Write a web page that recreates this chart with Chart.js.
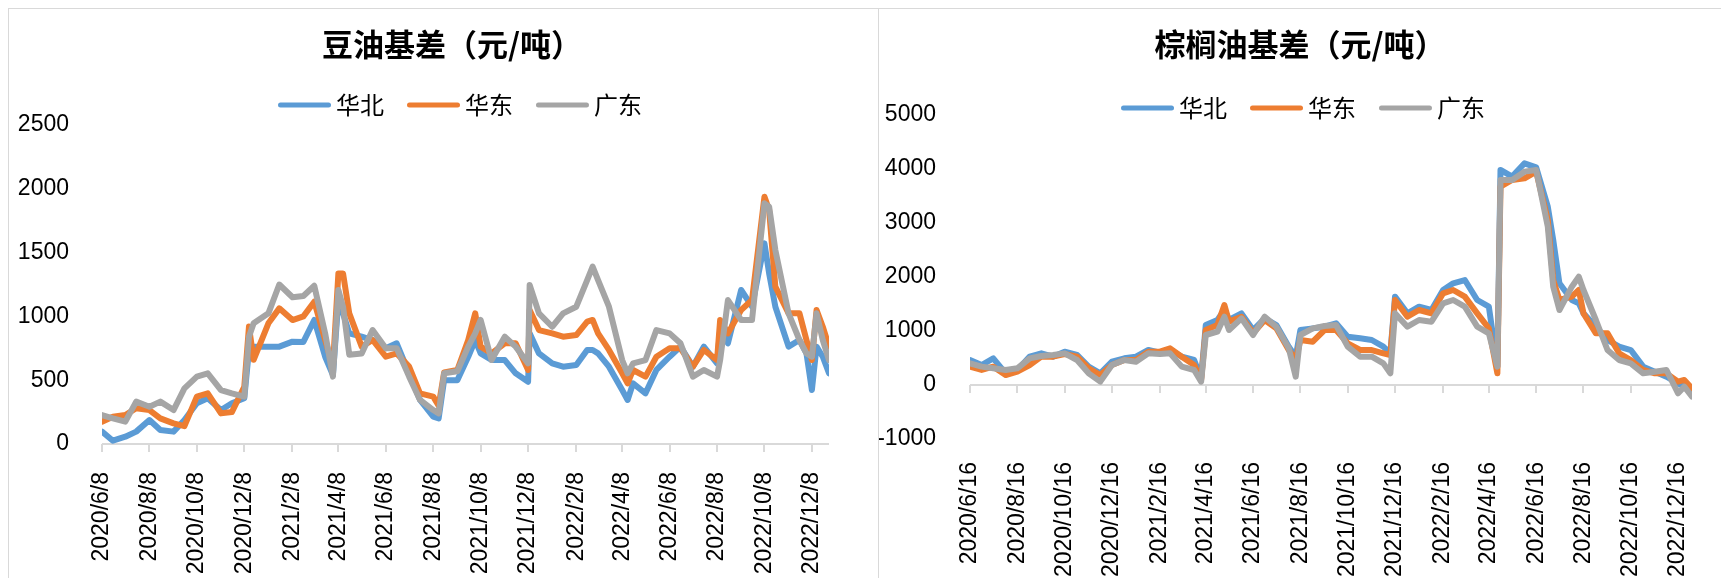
<!DOCTYPE html>
<html>
<head>
<meta charset="utf-8">
<script src="https://cdn.jsdelivr.net/npm/chart.js@4.4.0/dist/chart.umd.min.js"></script>
<style>
  body { margin: 0; background: #fff; width: 1721px; height: 578px; overflow: hidden; position: relative; }
  .panel { position: absolute; top: 8px; height: 580px; border: 1px solid #d9d9d9; background: #fff; overflow: hidden; }
  #p1 { left: 8px; width: 869px; }
  #p2 { left: 878px; width: 850px; }
  canvas { display: block; }
</style>
</head>
<body>
<div class="panel" id="p1"><canvas id="douyou" width="869" height="569"></canvas></div>
<div class="panel" id="p2"><canvas id="zonglv" width="842" height="569"></canvas></div>
<script>
// ---- 豆油基差 ----
const dyDates = ['2020/6/8','2020/6/22','2020/7/8','2020/7/22','2020/8/8','2020/8/22','2020/9/8','2020/9/22',
  '2020/10/8','2020/10/22','2020/11/8','2020/11/22','2020/12/8','2020/12/14','2020/12/20','2021/1/8','2021/1/22',
  '2021/2/8','2021/2/22','2021/3/8','2021/3/22','2021/4/1','2021/4/8','2021/4/14','2021/4/22','2021/5/8','2021/5/22',
  '2021/6/8','2021/6/22','2021/7/8','2021/7/22','2021/8/8','2021/8/15','2021/8/22','2021/9/8','2021/9/22','2021/10/1',
  '2021/10/8','2021/10/22','2021/11/8','2021/11/22','2021/12/8','2021/12/10','2021/12/22','2022/1/8','2022/1/22',
  '2022/2/8','2022/2/22','2022/3/1','2022/3/8','2022/3/22','2022/4/8','2022/4/15','2022/4/22','2022/5/8','2022/5/22',
  '2022/6/8','2022/6/22','2022/7/8','2022/7/22','2022/8/8','2022/8/12','2022/8/22','2022/9/8','2022/9/22','2022/10/8',
  '2022/10/14','2022/10/22','2022/11/8','2022/11/22','2022/12/1','2022/12/8','2022/12/14','2022/12/22','2022/12/30'];
const dyHuabei = [97,26,57,97,188,110,97,188,319,358,266,319,358,737,763,763,763,802,800,972,684,540,1128,1024,867,
  841,815,750,789,554,345,214,201,500,500,684,815,710,658,658,554,488,867,710,632,606,619,737,737,710,606,423,345,
  475,397,580,684,763,606,763,632,893,789,1207,1076,1572,1337,1076,763,815,710,423,763,684,554];
const dyHuadong = [175,214,227,280,266,201,162,140,371,397,240,250,449,920,660,946,1063,971,1000,1115,815,606,1337,
  1337,1024,763,815,684,710,606,397,371,300,560,580,815,1024,763,710,789,789,580,1050,893,867,841,854,959,972,867,
  737,554,475,580,528,684,750,750,606,737,658,972,867,1050,1128,1938,1834,1233,1024,1024,815,658,1050,919,763];
const dyGuangdong = [227,201,175,332,292,332,266,436,528,554,423,397,371,841,946,1024,1250,1150,1160,1240,867,528,
  1207,1076,700,710,893,750,750,528,345,266,240,554,570,763,867,972,658,841,763,632,1246,1024,919,1024,1076,1285,
  1390,1285,1076,658,554,632,658,893,867,789,528,580,528,658,1128,972,972,1886,1860,1520,1024,815,710,684,1024,815,658];
const dyTicks = ['2020/6/8','2020/8/8','2020/10/8','2020/12/8','2021/2/8','2021/4/8','2021/6/8','2021/8/8',
  '2021/10/8','2021/12/8','2022/2/8','2022/4/8','2022/6/8','2022/8/8','2022/10/8','2022/12/8'];

// ---- 棕榈油基差 ----
const zlDates = ['2020/6/16','2020/7/1','2020/7/16','2020/8/1','2020/8/16','2020/9/1','2020/9/16','2020/10/1',
  '2020/10/16','2020/11/1','2020/11/16','2020/12/1','2020/12/16','2021/1/1','2021/1/16','2021/2/1','2021/2/16',
  '2021/3/1','2021/3/16','2021/4/1','2021/4/10','2021/4/16','2021/5/1','2021/5/10','2021/5/16','2021/6/1','2021/6/16',
  '2021/7/1','2021/7/16','2021/8/1','2021/8/10','2021/8/16','2021/9/1','2021/9/16','2021/10/1','2021/10/16','2021/11/1',
  '2021/11/16','2021/12/1','2021/12/10','2021/12/16','2022/1/1','2022/1/16','2022/2/1','2022/2/16','2022/3/1',
  '2022/3/16','2022/4/1','2022/4/16','2022/4/27','2022/5/1','2022/5/16','2022/6/1','2022/6/16','2022/7/1','2022/7/8',
  '2022/7/16','2022/8/1','2022/8/10','2022/8/16','2022/9/1','2022/9/16','2022/10/1','2022/10/16','2022/11/1',
  '2022/11/16','2022/12/1','2022/12/16','2022/12/24','2023/1/3'];
const zlHuabei = [463,370,494,216,278,525,586,525,617,556,340,216,432,494,525,648,599,648,525,463,123,1111,1204,1389,
  1204,1327,1018,1235,1111,710,525,1018,1049,1080,1142,895,864,833,710,586,1636,1327,1451,1389,1759,1883,1944,1574,
  1451,340,3982,3858,4105,4031,3303,2685,1883,1574,1512,1327,1080,833,710,648,340,247,154,31,-31,-154];
const zlHuadong = [340,278,340,185,247,370,525,525,574,525,309,185,370,463,463,617,617,679,525,370,93,1018,1111,1481,
  1173,1265,957,1204,1049,648,463,833,802,1018,1018,772,648,648,586,556,1574,1265,1389,1327,1698,1759,1636,1327,
  1049,216,3673,3796,3827,3951,3056,1944,1574,1636,1759,1327,957,957,586,463,278,216,216,62,93,-62];
const zlGuangdong = [401,340,309,278,309,494,537,556,586,463,216,62,370,463,432,586,574,586,340,278,62,926,988,1265,
  1018,1235,926,1265,1080,679,154,926,1049,1093,1111,710,525,525,401,216,1327,1080,1204,1173,1512,1574,1451,1080,
  957,340,3796,3796,3951,3982,2932,1821,1389,1821,2006,1759,1204,648,463,401,216,247,278,-154,-31,-216];
const zlTicks = ['2020/6/16','2020/8/16','2020/10/16','2020/12/16','2021/2/16','2021/4/16','2021/6/16','2021/8/16',
  '2021/10/16','2021/12/16','2022/2/16','2022/4/16','2022/6/16','2022/8/16','2022/10/16','2022/12/16'];

const seriesNames = ['华北', '华东', '广东'];
const seriesColors = ['#5B9BD5', '#ED7D31', '#A5A5A5'];

// 日期字符串转成天数，作为线性x轴的值
function dayNum(s) {
  const [y, m, d] = s.split('/').map(Number);
  return Date.UTC(y, m - 1, d) / 86400000;
}
function dayLabel(v) {
  const dt = new Date(v * 86400000);
  return dt.getUTCFullYear() + '/' + (dt.getUTCMonth() + 1) + '/' + dt.getUTCDate();
}

const numFont = "'Liberation Sans', Arial, sans-serif";
const cjkFont = "'Noto Sans CJK SC', 'Liberation Sans', sans-serif";

// 标题和图例（圆头线段 + 文字）都画在绘图区上方
const header = {
  id: 'header',
  afterDraw(chart, args, opts) {
    const ctx = chart.ctx;
    const sets = chart.data.datasets;
    ctx.save();
    ctx.fillStyle = '#000';
    ctx.textBaseline = 'middle';
    ctx.textAlign = 'center';
    ctx.font = 'bold 31px ' + cjkFont;
    ctx.fillText(opts.title, opts.titleX, opts.titleY);

    ctx.textAlign = 'left';
    ctx.font = '24px ' + cjkFont;
    const widths = sets.map(ds => opts.lineLen + opts.gap + ctx.measureText(ds.label).width);
    const total = widths.reduce((a, b) => a + b, 0) + opts.spacing * (sets.length - 1);
    let x = opts.legendX - total / 2;
    sets.forEach((ds, i) => {
      ctx.strokeStyle = ds.borderColor;
      ctx.lineWidth = 5;
      ctx.lineCap = 'round';
      ctx.beginPath();
      ctx.moveTo(x + 2.5, opts.legendY);
      ctx.lineTo(x + opts.lineLen - 2.5, opts.legendY);
      ctx.stroke();
      ctx.fillText(ds.label, x + opts.lineLen + opts.gap, opts.legendY);
      x += widths[i] + opts.spacing;
    });
    ctx.restore();
  }
};

// 横轴画在0值处，带向下的刻度线
const zeroAxis = {
  id: 'zeroAxis',
  beforeDatasetsDraw(chart) {
    const {ctx, chartArea, scales} = chart;
    const y0 = Math.round(scales.y.getPixelForValue(0));
    ctx.save();
    ctx.strokeStyle = '#d9d9d9';
    ctx.lineWidth = 2;
    ctx.beginPath();
    ctx.moveTo(chartArea.left, y0);
    ctx.lineTo(chartArea.right, y0);
    scales.x.ticks.forEach(t => {
      const px = Math.round(scales.x.getPixelForValue(t.value));
      ctx.moveTo(px, y0);
      ctx.lineTo(px, y0 + 8);
    });
    ctx.stroke();
    ctx.restore();
  }
};

function makeChart(id, cfg) {
  const datasets = cfg.series.map((vals, i) => ({
    label: seriesNames[i],
    data: cfg.dates.map((d, j) => ({x: dayNum(d), y: vals[j]})),
    borderColor: seriesColors[i],
    backgroundColor: seriesColors[i],
    borderWidth: 6,
    borderCapStyle: 'round',
    borderJoinStyle: 'round',
    pointRadius: 0,
    tension: 0,
    order: 3 - i
  }));
  return new Chart(document.getElementById(id), {
    type: 'line',
    data: {datasets},
    plugins: [zeroAxis, header],
    options: {
      responsive: false,
      animation: false,
      layout: {padding: {left: 0, right: cfg.padRight, top: cfg.padTop, bottom: 0}},
      plugins: {
        legend: {display: false},
        tooltip: {enabled: false},
        title: {display: false},
        header: {
          title: cfg.title, titleX: cfg.titleX, titleY: 35,
          legendX: cfg.legendX, legendY: cfg.legendY,
          lineLen: 53, gap: 5, spacing: 23
        }
      },
      scales: {
        x: {
          type: 'linear',
          min: dayNum(cfg.dates[0]),
          max: dayNum(cfg.dates[cfg.dates.length - 1]),
          grid: {display: false},
          border: {display: false},
          afterBuildTicks: s => { s.ticks = cfg.ticks.map(t => ({value: dayNum(t)})); },
          afterFit: s => { s.height = cfg.xHeight; },
          ticks: {
            autoSkip: false,
            minRotation: 90,
            maxRotation: 90,
            padding: cfg.xPad,
            color: '#000',
            font: {family: numFont, size: 23},
            callback: v => dayLabel(v)
          }
        },
        y: {
          min: cfg.yMin,
          max: cfg.yMax,
          grid: {display: false},
          border: {display: false},
          afterFit: s => { s.width = cfg.yWidth; },
          ticks: {
            stepSize: cfg.yStep,
            padding: cfg.yPad,
            color: '#000',
            font: {family: numFont, size: 23},
            callback: v => String(v)
          }
        }
      }
    }
  });
}

makeChart('douyou', {
  title: '豆油基差（元/吨）',
  dates: dyDates,
  series: [dyHuabei, dyHuadong, dyGuangdong],
  ticks: dyTicks,
  yMin: 0, yMax: 2500, yStep: 500,
  yWidth: 93, yPad: 25,
  xHeight: 134, xPad: 20,
  padRight: 49, padTop: 116,
  titleX: 443, legendX: 451, legendY: 96
});

makeChart('zonglv', {
  title: '棕榈油基差（元/吨）',
  dates: zlDates,
  series: [zlHuabei, zlHuadong, zlGuangdong],
  ticks: zlTicks,
  yMin: -1000, yMax: 5000, yStep: 1000,
  yWidth: 91, yPad: 26,
  xHeight: 139, xPad: 15,
  padRight: 16, padTop: 106,
  titleX: 421, legendX: 424, legendY: 99
});
</script>
</body>
</html>
